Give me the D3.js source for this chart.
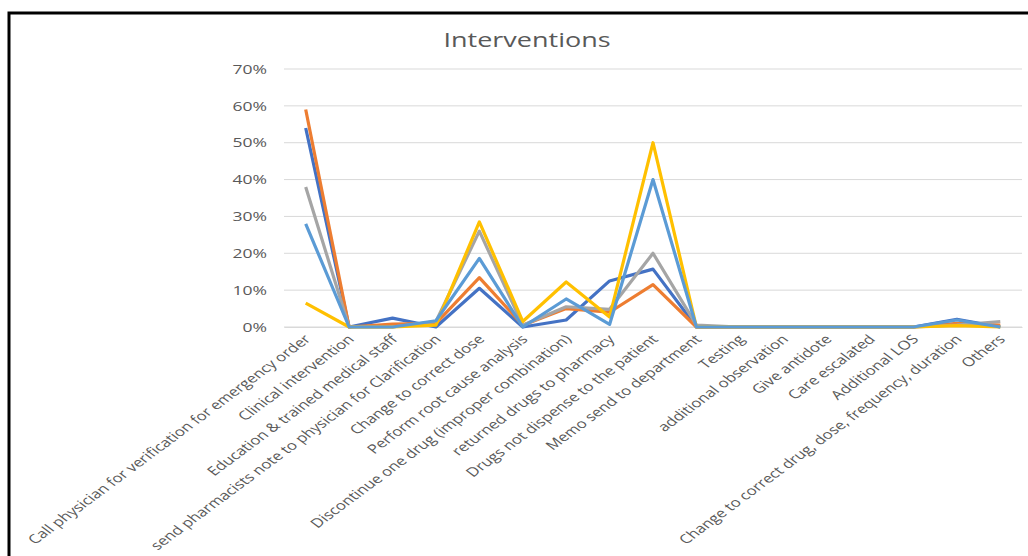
<!DOCTYPE html>
<html>
<head>
<meta charset="utf-8">
<script src="https://cdn.jsdelivr.net/npm/d3@7"></script>
<style>
  body { margin: 0; background: #fff; }
  svg { display: block; }
</style>
</head>
<body>
<svg id="grafica"></svg>
<script>
// Intervenciones: porcentaje por tipo de intervención, 5 series

const svg_w = 1028;
const svg_h = 556;

const categorias = [
  "Call physician for verification for emergency order",
  "Clinical intervention",
  "Education & trained medical staff",
  "send pharmacists note to physician for Clarification",
  "Change to correct dose",
  "Perform root cause analysis",
  "Discontinue one drug (improper combination)",
  "returned drugs to pharmacy",
  "Drugs not dispense to the patient",
  "Memo send to department",
  "Testing",
  "additional observation",
  "Give antidote",
  "Care escalated",
  "Additional LOS",
  "Change to correct drug, dose, frequency, duration",
  "Others"
];

// valores en fracción (0.54 = 54%)
const serie_azul     = [0.54, 0, 0.024, 0, 0.105, 0, 0.019, 0.125, 0.157, 0, 0, 0, 0, 0, 0, 0.021, 0];
const serie_naranja  = [0.59, 0, 0.008, 0.01, 0.134, 0.005, 0.05, 0.04, 0.115, 0, 0, 0, 0, 0, 0, 0.01, 0.005];
const serie_gris     = [0.38, 0, 0, 0.015, 0.26, 0.005, 0.055, 0.048, 0.20, 0.005, 0, 0, 0, 0, 0, 0.005, 0.015];
const serie_amarilla = [0.065, 0, 0, 0.005, 0.285, 0.015, 0.122, 0.027, 0.50, 0, 0, 0, 0, 0, 0, 0.004, 0];
const serie_celeste  = [0.28, 0, 0, 0.017, 0.186, 0, 0.076, 0.007, 0.40, 0, 0, 0, 0, 0, 0, 0.019, 0];

const y_ticks = [0, 0.1, 0.2, 0.3, 0.4, 0.5, 0.6, 0.7];

const series = [
  {nombre: "s1", color: "#4472C4", valores: serie_azul},
  {nombre: "s2", color: "#ED7D31", valores: serie_naranja},
  {nombre: "s3", color: "#A5A5A5", valores: serie_gris},
  {nombre: "s4", color: "#FFC000", valores: serie_amarilla},
  {nombre: "s5", color: "#5B9BD5", valores: serie_celeste}
];

const margin = {l: 284, r: 6, t: 69, b: 229};
const viz_w = svg_w - margin.l - margin.r;
const viz_h = svg_h - margin.t - margin.b;

// la imagen original está estirada en horizontal
const estiramiento = 1.35;

const fuente = "'Open Sans', sans-serif";
const gris_texto = "#595959";

let svg = d3.select("#grafica")
  .attr("width", svg_w)
  .attr("height", svg_h);

// marco negro (arriba e izquierda)
svg.append("path")
  .attr("d", `M9,${svg_h} V13 H${svg_w}`)
  .attr("fill", "none")
  .attr("stroke", "black")
  .attr("stroke-width", 3);

svg.append("text")
  .attr("transform", `translate(527,47) scale(${estiramiento},1)`)
  .attr("text-anchor", "middle")
  .attr("font-family", fuente)
  .attr("font-size", 20)
  .attr("fill", gris_texto)
  .text("Interventions");

let x_scale = d3.scaleBand()
  .domain(categorias)
  .range([0, viz_w])
  .padding(0);

let y_scale = d3.scaleLinear()
  .domain([0, 0.7])
  .range([viz_h, 0]);

let g = svg.append("g")
  .attr("transform", `translate(${margin.l},${margin.t})`);

// líneas de la grilla
g.append("g")
  .selectAll("line")
  .data(y_ticks)
  .enter().append("line")
  .attr("x1", 0)
  .attr("x2", viz_w)
  .attr("y1", d => y_scale(d))
  .attr("y2", d => y_scale(d))
  .attr("stroke", "#d9d9d9")
  .attr("stroke-width", 1);

// eje y
let y_axis = g.append("g")
  .call(d3.axisLeft(y_scale).tickValues(y_ticks).tickFormat(d3.format(".0%")).tickSize(0));
y_axis.select(".domain").remove();
y_axis.selectAll("text")
  .attr("x", -17 / estiramiento)
  .attr("transform", `scale(${estiramiento},1)`)
  .attr("font-family", fuente)
  .attr("font-size", 13)
  .attr("fill", gris_texto);

// eje x
let x_axis = g.append("g")
  .attr("transform", `translate(0,${viz_h})`)
  .call(d3.axisBottom(x_scale).tickSize(0).tickPadding(0));
x_axis.select(".domain").attr("stroke", "#d9d9d9");
x_axis.selectAll("text")
  .attr("font-family", fuente)
  .attr("font-size", 12.5)
  .attr("fill", gris_texto)
  .attr("text-anchor", "end")
  .attr("y", 0)
  .attr("dy", 0)
  .attr("transform", `translate(6,13) scale(${estiramiento},1) rotate(-45)`);

let linea = d3.line()
  .x((d, i) => x_scale(categorias[i]) + x_scale.bandwidth() / 2)
  .y(d => y_scale(d));

g.append("g")
  .selectAll("path")
  .data(series)
  .enter().append("path")
  .attr("d", d => linea(d.valores))
  .attr("fill", "none")
  .attr("stroke", d => d.color)
  .attr("stroke-width", 3.2)
  .attr("stroke-linejoin", "round");
</script>
</body>
</html>
